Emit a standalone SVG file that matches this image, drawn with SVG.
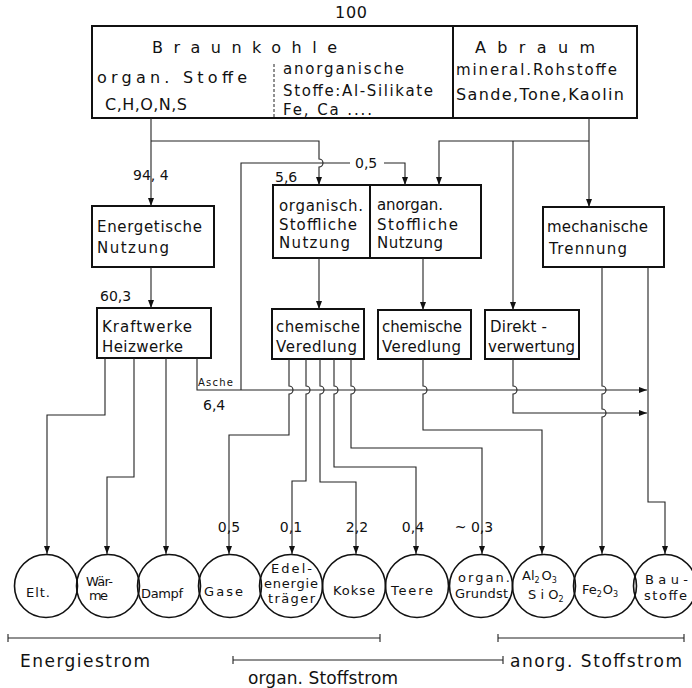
<svg xmlns="http://www.w3.org/2000/svg" width="692" height="688" viewBox="0 0 692 688">
<defs>
<style>
.box{fill:none;stroke:#111;stroke-width:2}
.ln{fill:none;stroke:#222;stroke-width:1.1}
.cir{fill:none;stroke:#111;stroke-width:1.6}
.t{font-family:"DejaVu Sans","Liberation Sans",Arial,sans-serif;font-size:15px;fill:#111}
.c{font-size:13px}
.n{font-size:14px}
.m{font-size:15px}
.l{font-size:16px}
.b{font-size:17px}
.s{font-size:10px}
.sub{font-size:8px}
</style>
<marker id="ah" markerUnits="userSpaceOnUse" markerWidth="8" markerHeight="8" viewBox="0 0 8 8" refX="8" refY="4" orient="auto">
<path d="M0,1 L8,4 L0,7 z" fill="#111"/>
</marker>
</defs>
<rect width="692" height="688" fill="#fff"/>

<g id="source">
<text class="t l" x="335" y="18" textLength="32" lengthAdjust="spacing">100</text>
<rect class="box" x="92" y="26" width="545" height="92"/>
<line class="box" x1="453" y1="26" x2="453" y2="118"/>
<line x1="274" y1="64" x2="274" y2="118" stroke="#222" stroke-width="1" stroke-dasharray="3,2"/>
<text class="t l" x="152" y="53" textLength="185" lengthAdjust="spacing">Braunkohle</text>
<text class="t l" x="97" y="83" textLength="150" lengthAdjust="spacing">organ. Stoffe</text>
<text class="t l" x="105" y="110" textLength="82" lengthAdjust="spacing">C,H,O,N,S</text>
<text class="t m" x="283" y="74" textLength="121" lengthAdjust="spacing">anorganische</text>
<text class="t m" x="283" y="96" textLength="150" lengthAdjust="spacing">Stoffe:Al-Silikate</text>
<text class="t m" x="283" y="115" textLength="89" lengthAdjust="spacing">Fe, Ca ....</text>
<text class="t l" x="475" y="53" textLength="120" lengthAdjust="spacing">Abraum</text>
<text class="t m" x="456" y="75" textLength="161" lengthAdjust="spacing">mineral.Rohstoffe</text>
<text class="t l" x="456" y="100" textLength="168" lengthAdjust="spacing">Sande,Tone,Kaolin</text>
</g>

<g id="energetische">
<rect class="box" x="92" y="206" width="122" height="61"/>
<text class="t" x="97" y="232" textLength="105" lengthAdjust="spacing">Energetische</text>
<text class="t" x="97" y="253" textLength="72" lengthAdjust="spacing">Nutzung</text>
</g>

<g id="stoffliche">
<rect class="box" x="273" y="185" width="208" height="73"/>
<line class="box" x1="370" y1="185" x2="370" y2="258" stroke-width="1.2"/>
<text class="t" x="279" y="211" textLength="84" lengthAdjust="spacing">organisch.</text>
<text class="t" x="279" y="230" textLength="78" lengthAdjust="spacing">Stoffliche</text>
<text class="t" x="279" y="248" textLength="71" lengthAdjust="spacing">Nutzung</text>
<text class="t" x="377" y="210" textLength="66" lengthAdjust="spacing">anorgan.</text>
<text class="t" x="377" y="230" textLength="81" lengthAdjust="spacing">Stoffliche</text>
<text class="t" x="377" y="248" textLength="66" lengthAdjust="spacing">Nutzung</text>
</g>

<g id="mechanische">
<rect class="box" x="543" y="207" width="121" height="60"/>
<text class="t" x="547" y="232" textLength="101" lengthAdjust="spacing">mechanische</text>
<text class="t" x="549" y="254" textLength="78" lengthAdjust="spacing">Trennung</text>
</g>

<g id="kraftwerke">
<rect class="box" x="97" y="308" width="114" height="50"/>
<text class="t" x="102" y="332" textLength="90" lengthAdjust="spacing">Kraftwerke</text>
<text class="t" x="102" y="352" textLength="81" lengthAdjust="spacing">Heizwerke</text>
</g>

<g id="chem1">
<rect class="box" x="272" y="309" width="92" height="50"/>
<text class="t" x="276" y="332" textLength="84" lengthAdjust="spacing">chemische</text>
<text class="t" x="276" y="352" textLength="81" lengthAdjust="spacing">Veredlung</text>
</g>

<g id="chem2">
<rect class="box" x="378" y="310" width="93" height="49"/>
<text class="t" x="382" y="332" textLength="80" lengthAdjust="spacing">chemische</text>
<text class="t" x="382" y="352" textLength="79" lengthAdjust="spacing">Veredlung</text>
</g>

<g id="direkt">
<rect class="box" x="485" y="310" width="94" height="49"/>
<text class="t" x="490" y="332" textLength="57" lengthAdjust="spacing">Direkt -</text>
<text class="t" x="488" y="352" textLength="87" lengthAdjust="spacing">verwertung</text>
</g>

<g id="connectors">
<path class="ln" d="M151,118 V206" marker-end="url(#ah)"/>
<path class="ln" d="M151,141 H319 V159 a4,4 0 0 1 0,8 V185" marker-end="url(#ah)"/>
<path class="ln" d="M241,390 V163 H350"/>
<path class="ln" d="M384,163 H405 V185" marker-end="url(#ah)"/>
<path class="ln" d="M589,118 V207" marker-end="url(#ah)"/>
<path class="ln" d="M589,141 H439 V185" marker-end="url(#ah)"/>
<path class="ln" d="M513,141 V310" marker-end="url(#ah)"/>
<path class="ln" d="M151,267 V308" marker-end="url(#ah)"/>
<path class="ln" d="M319,258 V309" marker-end="url(#ah)"/>
<path class="ln" d="M423,258 V310" marker-end="url(#ah)"/>
<path class="ln" d="M105,358 V415 H47 V554" marker-end="url(#ah)"/>
<path class="ln" d="M134,358 V477 H107 V554" marker-end="url(#ah)"/>
<path class="ln" d="M166,358 V554" marker-end="url(#ah)"/>
<path class="ln" d="M197,358 V390 H647" marker-end="url(#ah)"/>
<path class="ln" d="M289,359 V386 a4,4 0 0 1 0,8 V435 H229 V554" marker-end="url(#ah)"/>
<path class="ln" d="M306,359 V386 a4,4 0 0 1 0,8 V481 H292 V554" marker-end="url(#ah)"/>
<path class="ln" d="M320,359 V386 a4,4 0 0 1 0,8 V482 H356 V554" marker-end="url(#ah)"/>
<path class="ln" d="M334,359 V386 a4,4 0 0 1 0,8 V467 H416 V554" marker-end="url(#ah)"/>
<path class="ln" d="M351,359 V386 a4,4 0 0 1 0,8 V448 H482 V554" marker-end="url(#ah)"/>
<path class="ln" d="M423,359 V386 a4,4 0 0 1 0,8 V430 H542 V554" marker-end="url(#ah)"/>
<path class="ln" d="M513,359 V386 a4,4 0 0 1 0,8 V413 H647" marker-end="url(#ah)"/>
<path class="ln" d="M602,267 V386 a4,4 0 0 1 0,8 V409 a4,4 0 0 1 0,8 V554" marker-end="url(#ah)"/>
<path class="ln" d="M648,267 V502 H665 V554" marker-end="url(#ah)"/>
<text class="t n" x="133" y="180">94, 4</text>
<text class="t n" x="275" y="182">5,6</text>
<text class="t n" x="355" y="168">0,5</text>
<text class="t n" x="100" y="301">60,3</text>
<text class="t s" x="198" y="386" textLength="35" lengthAdjust="spacing">Asche</text>
<text class="t n" x="203" y="410">6,4</text>
<text class="t n" x="229" y="532" text-anchor="middle">0,5</text>
<text class="t n" x="291" y="532" text-anchor="middle">0,1</text>
<text class="t n" x="357" y="532" text-anchor="middle">2,2</text>
<text class="t n" x="413" y="532" text-anchor="middle">0,4</text>
<text class="t n" x="474" y="532" text-anchor="middle">~ 0,3</text>
</g>

<g id="c-elt"><circle class="cir" cx="46" cy="586" r="31.5"/><text class="t c" x="26" y="597" textLength="24" lengthAdjust="spacing">Elt.</text></g>
<g id="c-waerme"><circle class="cir" cx="108" cy="586" r="31.5"/><text class="t c" x="86" y="586" textLength="27" lengthAdjust="spacing">Wär-</text><text class="t c" x="89" y="600" textLength="19" lengthAdjust="spacing">me</text></g>
<g id="c-dampf"><circle class="cir" cx="169" cy="586" r="31.5"/><text class="t c" x="141" y="598" textLength="42" lengthAdjust="spacing">Dampf</text></g>
<g id="c-gase"><circle class="cir" cx="230" cy="586" r="31.5"/><text class="t c" x="204" y="596" textLength="39" lengthAdjust="spacing">Gase</text></g>
<g id="c-edel"><circle class="cir" cx="291" cy="586" r="31.5"/><text class="t c" x="271" y="573" textLength="41" lengthAdjust="spacing">Edel-</text><text class="t c" x="264" y="588" textLength="54" lengthAdjust="spacing">energie</text><text class="t c" x="268" y="603" textLength="47" lengthAdjust="spacing">träger</text></g>
<g id="c-kokse"><circle class="cir" cx="354" cy="586" r="31.5"/><text class="t c" x="333" y="595" textLength="42" lengthAdjust="spacing">Kokse</text></g>
<g id="c-teere"><circle class="cir" cx="417" cy="586" r="31.5"/><text class="t c" x="391" y="595" textLength="42" lengthAdjust="spacing">Teere</text></g>
<g id="c-organ"><circle class="cir" cx="481" cy="586" r="31.5"/><text class="t c" x="458" y="582" textLength="52" lengthAdjust="spacing">organ.</text><text class="t c" x="455" y="598" textLength="53" lengthAdjust="spacing">Grundst</text></g>
<g id="c-al"><circle class="cir" cx="544" cy="586" r="31.5"/><text class="t c" x="522" y="580">Al<tspan class="sub" dy="3">2</tspan><tspan dy="-3" dx="2">O</tspan><tspan class="sub" dy="3">3</tspan></text><text class="t c" x="528" y="599">S i <tspan>O</tspan><tspan class="sub" dy="3">2</tspan></text></g>
<g id="c-fe"><circle class="cir" cx="605" cy="586" r="31.5"/><text class="t c" x="582" y="594">Fe<tspan class="sub" dy="3">2</tspan><tspan dy="-3" dx="1">O</tspan><tspan class="sub" dy="3">3</tspan></text></g>
<g id="c-bau"><circle class="cir" cx="665" cy="586" r="31.5"/><text class="t c" x="645" y="584" textLength="43" lengthAdjust="spacing">Bau-</text><text class="t c" x="644" y="600" textLength="43" lengthAdjust="spacing">stoffe</text></g>

<g id="legend">
<path class="ln" d="M8,638 H380 M8,634 V642 M380,634 V642" stroke-width="1.4"/>
<path class="ln" d="M233,660 H503 M233,656 V664 M503,656 V664" stroke-width="1.4"/>
<path class="ln" d="M498,638 H684 M498,634 V642 M684,634 V642" stroke-width="1.4"/>
<text class="t b" x="20" y="667" textLength="130" lengthAdjust="spacing">Energiestrom</text>
<text class="t b" x="248" y="684" textLength="150" lengthAdjust="spacing">organ. Stoffstrom</text>
<text class="t b" x="510" y="667" textLength="172" lengthAdjust="spacing">anorg. Stoffstrom</text>
</g>
</svg>
